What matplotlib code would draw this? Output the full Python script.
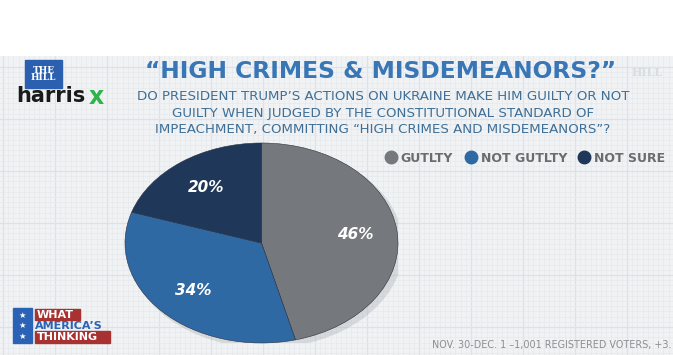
from matplotlib import pyplot as plt
from matplotlib.lines import Line2D
from matplotlib.patches import Rectangle, Ellipse

# poll results
labels = ['GUTLTY', 'NOT GUTLTY', 'NOT SURE']
shares = [46, 34, 20]
colors = ['#75787d', '#2f69a3', '#1f3759']

title = '\u201cHIGH CRIMES & MISDEMEANORS?\u201d'
question = ['DO PRESIDENT TRUMP\u2019S ACTIONS ON UKRAINE MAKE HIM GUILTY OR NOT',
            'GUILTY WHEN JUDGED BY THE CONSTITUTIONAL STANDARD OF',
            'IMPEACHMENT, COMMITTING \u201cHIGH CRIMES AND MISDEMEANORS\u201d?']
footnote = 'NOV. 30-DEC. 1 \u20131,001 REGISTERED VOTERS, +3.'

W, H = 673, 355
fig = plt.figure(figsize=(W / 100, H / 100), dpi=100)
fig.patch.set_facecolor('white')

# grid-paper background below the white band
top_band = 56
bg = fig.add_axes([0, 0, 1, 1 - top_band / H], zorder=0)
bg.set_facecolor('#f0f2f4')
bg.set_xlim(0, W)
bg.set_ylim(H, top_band)
bg.set_xticks(range(3, W, 52))
bg.set_xticks([x / 10 for x in range(30, W * 10, 52)], minor=True)
bg.set_yticks(range(67, H, 52))
bg.set_yticks([y / 10 for y in range(670, H * 10, 52)], minor=True)
bg.grid(True, which='major', color='#dde2e7', linewidth=0.9)
bg.grid(True, which='minor', color='#e7eaed', linewidth=0.5)
bg.tick_params(which='both', length=0, labelleft=False, labelbottom=False)
for s in bg.spines.values():
    s.set_visible(False)

# elliptical pie
left, right, ptop, pbot = 125, 398, 143, 343
pie_ax = fig.add_axes([left / W, 1 - pbot / H, (right - left) / W, (pbot - ptop) / H],
                      zorder=1)
pie_ax.add_patch(Ellipse((0.03, -0.04), 2.02, 2.02, color='#9aa0a6', alpha=0.3, lw=0))
wedges, _, autotexts = pie_ax.pie(
    shares, colors=colors, startangle=90, counterclock=False,
    autopct=lambda p: f'{p:.0f}%', pctdistance=0.69,
    wedgeprops=dict(edgecolor='#2a3140', linewidth=0.4))
for t in autotexts:
    t.set_color('white')
    t.set_fontsize(11)
    t.set_fontweight('bold')
    t.set_fontstyle('italic')
pie_ax.set_aspect('auto')
pie_ax.set_xlim(-1, 1)
pie_ax.set_ylim(-1, 1)
pie_ax.axis('off')

# overlay in pixel coordinates for titles and logos
ov = fig.add_axes([0, 0, 1, 1], zorder=2)
ov.set_xlim(0, W)
ov.set_ylim(H, 0)
ov.axis('off')

ov.text(381, 72, title, ha='center', va='center', color='#3876b6',
        fontsize=16.8, fontweight='bold')
ov.text(647, 72, 'HILL', ha='center', va='center', color='#d8dde2',
        fontsize=8, fontweight='bold', family='DejaVu Serif')
for i, line in enumerate(question):
    ov.text(383, 97 + i * 16, line, ha='center', va='center', color='#3f6f96',
            fontsize=9.6)

# THE HILL / harrisx logos
ov.add_patch(Rectangle((25, 60), 37, 28, color='#2b5fb0'))
ov.text(43.5, 74, 'THE\nHILL', ha='center', va='center', color='white',
        fontsize=6.5, fontweight='bold', family='DejaVu Serif', linespacing=0.85)
ov.text(16, 96, 'harris', ha='left', va='center', color='#1a1a1a',
        fontsize=15, fontweight='bold')
ov.text(89, 97, 'x', ha='left', va='center', color='#2fb44a',
        fontsize=17, fontweight='bold')

# legend
handles = [Line2D([], [], marker='o', linestyle='', markersize=9,
                  markerfacecolor=c, markeredgecolor=c) for c in colors]
fig.legend(handles, labels, ncol=3, loc='center',
           bbox_to_anchor=(525 / W, 1 - 158 / H), frameon=False,
           handletextpad=0.3, columnspacing=0.9, handlelength=1.0,
           prop=dict(size=9, weight='bold'), labelcolor='#6a6d70')

# WHAT AMERICA'S THINKING logo
ov.add_patch(Rectangle((13, 308), 19, 35, color='#2a62b5'))
for y in (315, 325.5, 336):
    ov.text(22.5, y, '\u2605', ha='center', va='center', color='white', fontsize=6)
ov.add_patch(Rectangle((35, 309), 45, 11, color='#a83232'))
ov.text(37, 314.5, 'WHAT', ha='left', va='center', color='white',
        fontsize=8, fontweight='bold')
ov.text(35, 326, 'AMERICA\u2019S', ha='left', va='center', color='#2a62b5',
        fontsize=8, fontweight='bold')
ov.add_patch(Rectangle((35, 331), 75, 12, color='#a83232'))
ov.text(37, 337, 'THINKING', ha='left', va='center', color='white',
        fontsize=8, fontweight='bold')

ov.text(432, 345, footnote, ha='left', va='center', color='#8c8f92',
        fontsize=6.9)

fig.savefig('out.png', dpi=100)
